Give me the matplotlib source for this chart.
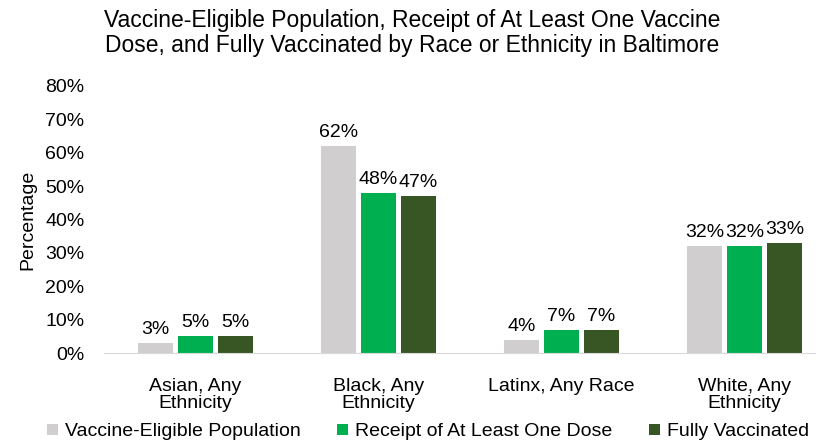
import matplotlib.pyplot as plt
import numpy as np

plt.rcParams['font.family'] = ['Liberation Sans', 'DejaVu Sans']

groups = ['Asian, Any\nEthnicity', 'Black, Any\nEthnicity', 'Latinx, Any Race', 'White, Any\nEthnicity']
series = ['Vaccine-Eligible Population', 'Receipt of At Least One Dose', 'Fully Vaccinated']
eligible = [3, 62, 4, 32]
one_dose = [5, 48, 7, 32]
fully = [5, 47, 7, 33]
colors = ['#D0CECE', '#00B050', '#375623']

fig = plt.figure(figsize=(8.16, 4.43), dpi=100)
ax = fig.add_axes([104 / 816, 1 - 353 / 443, 732 / 816, 267 / 443])

x = np.arange(len(groups))
w = 0.19
step = 0.219
for i, (vals, lab, c) in enumerate(zip([eligible, one_dose, fully], series, colors)):
    pos = x + (i - 1) * step
    bars = ax.bar(pos, vals, w, color=c, label=lab, zorder=2)
    for b, v in zip(bars, vals):
        ax.text(b.get_x() + b.get_width() / 2, v + 1.5, f'{v}%',
                ha='center', va='bottom', fontsize=14)

ax.set_xlim(-0.5, 3.5)
ax.set_ylim(0, 80)
ax.set_yticks(range(0, 81, 10))
ax.set_yticklabels([f'{t}%' for t in range(0, 81, 10)], fontsize=14)
ax.set_xticks(x)
ax.set_xticklabels(groups, fontsize=14, linespacing=1.0)
ax.tick_params(length=0)
ax.tick_params(axis='x', pad=18)
ax.tick_params(axis='y', pad=14)
for s in ['top', 'right', 'left']:
    ax.spines[s].set_visible(False)
ax.spines['bottom'].set_color('#D9D9D9')
ax.set_ylabel('Percentage', fontsize=14)
ax.yaxis.set_label_coords(-0.092, 0.5)

fig.text(412 / 816, 1 - 33 / 443,
         'Vaccine-Eligible Population, Receipt of At Least One Vaccine\n'
         'Dose, and Fully Vaccinated by Race or Ethnicity in Baltimore',
         ha='center', va='center', fontsize=16.5, linespacing=1.15)

fig.legend(loc='center', bbox_to_anchor=(428 / 816, 1 - 432 / 443), ncol=3,
           frameon=False, fontsize=14, handlelength=0.55, handleheight=0.55,
           handletextpad=0.35, columnspacing=1.9)

fig.savefig('out.png', dpi=100)
